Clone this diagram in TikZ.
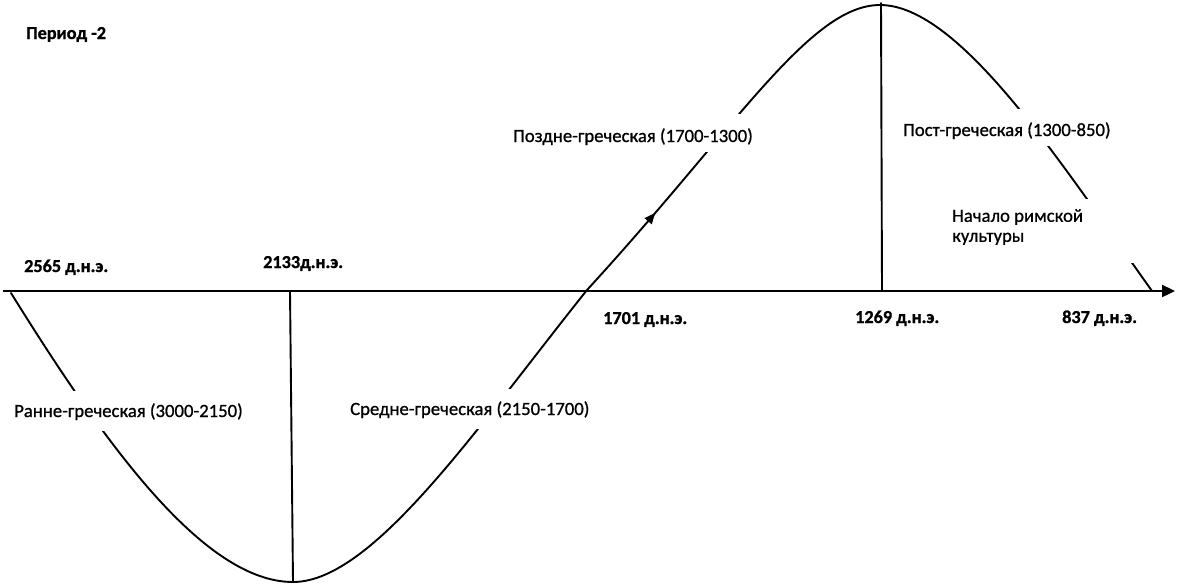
\documentclass[tikz,border=0pt]{standalone}
\usepackage{fontspec}
\setmainfont{Carlito}
\newfontface\lblface{Carlito}[FakeBold=0.8]
\newfontface\dateface{Carlito Bold}[FakeBold=1.2]
\usetikzlibrary{arrows.meta,decorations.markings}
\begin{document}
\begin{tikzpicture}[x=1pt,y=-1pt,
  curve/.style={line width=1.9pt, line cap=round, line join=round},
  axisline/.style={line width=2.3pt, -{Triangle[length=13pt,width=12pt]}},
  midarrow/.style={postaction={decorate}, decoration={markings,
      mark=at position 103pt with {\arrow{Triangle[length=11pt,width=9pt]}}}},
  gap/.style={fill=white},
  lbl/.style={anchor=base west, inner sep=0pt, font=\fontsize{18.7}{20}\lblface},
  datelbl/.style={anchor=base west, inner sep=0pt, font=\fontsize{18.2}{20}\dateface},
]
\useasboundingbox (0,0) rectangle (1188,584);

% axis
\coordinate (axL) at (3,291);
\coordinate (axR) at (1175,291);
\draw[axisline] (axL) -- (axR);

% wave
\coordinate (w0) at (11,293);
\coordinate (wmin) at (293,582);
\coordinate (wz) at (587,290);
\coordinate (wmax) at (880,5);
\coordinate (wend) at (1152,291);
\draw[curve] (w0) .. controls (103,441) and (203,582) .. (wmin)
                  .. controls (373,582) and (477,427.5) .. (wz);
\draw[curve, midarrow] (wz) .. controls (737,126.5) and (810,5) .. (wmax);
\draw[curve] (wmax) .. controls (960,5) and (1062,165) .. (wend);

% gaps where the labels sit
\fill[gap] (10,391) rectangle (255,431);
\fill[gap] (340,389) rectangle (600,429);
\fill[gap] (505,114) rectangle (765,152);
\fill[gap] (895,109) rectangle (1120,146);
\fill[gap] (945,199) rectangle (1145,263);

% vertical lines
\coordinate (v1t) at (290,291);
\coordinate (v1b) at (293,582);
\coordinate (v2t) at (881,3);
\coordinate (v2b) at (882,291);
\draw[curve] (v1t) -- (v1b);
\draw[curve] (v2t) -- (v2b);

% labels
\node[datelbl] (title) at (26,39) {Период -2};
\node[datelbl] (d1) at (24,272) {2565 д.н.э.};
\node[datelbl] (d2) at (263,268) {2133д.н.э.};
\node[datelbl] (d3) at (603,324) {1701 д.н.э.};
\node[datelbl] (d4) at (855,323) {1269 д.н.э.};
\node[datelbl] (d5) at (1062,323) {837 д.н.э.};

\node[lbl] (p1) at (14,417) {Ранне-греческая (3000-2150)};
\node[lbl] (p2) at (350,415) {Средне-греческая (2150-1700)};
\node[lbl] (p3) at (513,142) {Поздне-греческая (1700-1300)};
\node[lbl] (p4) at (903,136) {Пост-греческая (1300-850)};
\node[lbl, align=left, anchor=north west] (p5) at (952,209) {Начало римской\\культуры};
\end{tikzpicture}
\end{document}
